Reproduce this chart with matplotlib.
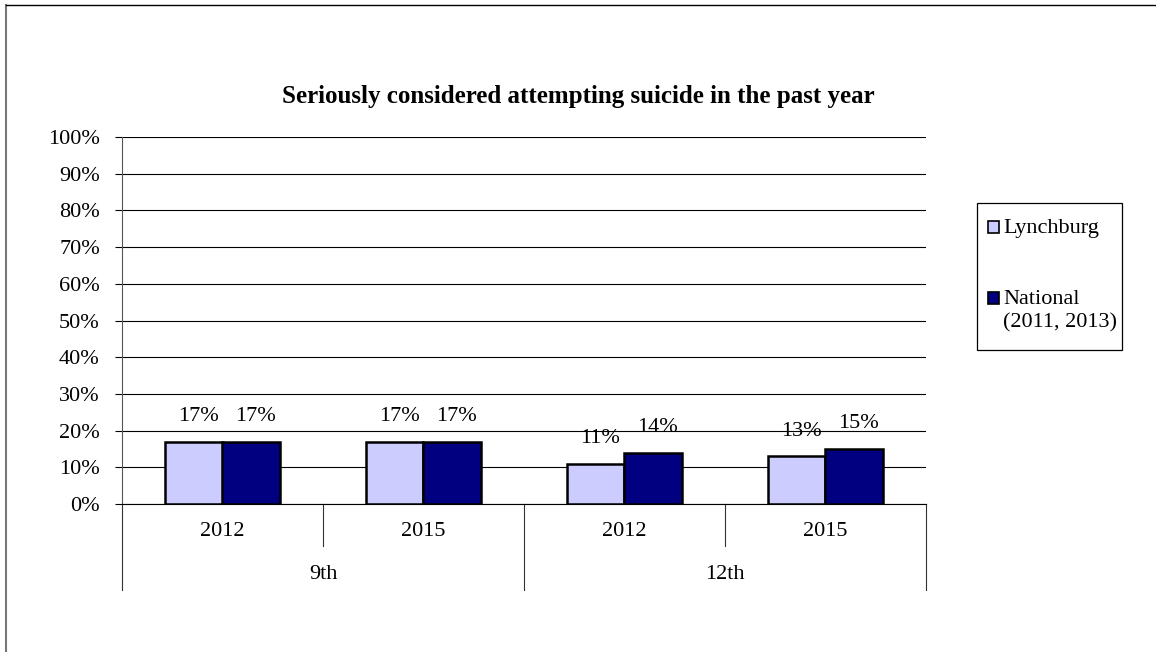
import matplotlib

matplotlib.use("Agg")
import matplotlib.pyplot as plt
from matplotlib.lines import Line2D
from matplotlib.patches import Rectangle

plt.rcParams["font.family"] = ["Liberation Serif", "DejaVu Serif"]

years = ["2012", "2015", "2012", "2015"]
grades = ["9th", "12th"]
lynchburg = [17, 17, 11, 13]
national = [17, 17, 14, 15]
series_names = ["Lynchburg", "National\n(2011, 2013)"]
colors = ["#CCCCFF", "#000080"]

FS = 16
fig = plt.figure(figsize=(11.56, 6.52), dpi=100)
W, H = 1156, 652
ax = fig.add_axes([122 / W, 1 - 504 / H, (926 - 122) / W, (504 - 137) / H])

x = list(range(len(years)))
bw = 0.284
for vals, off, col in [(lynchburg, -bw / 2, colors[0]), (national, bw / 2, colors[1])]:
    pos = [i + off for i in x]
    ax.bar(pos, vals, width=bw, color=col, edgecolor="black", linewidth=1.8, zorder=3)
    for p, v in zip(pos, vals):
        ax.annotate(f"{v}%", (p, v), xytext=(3, 18), textcoords="offset points",
                    ha="center", va="center", fontsize=FS)

ax.set_xlim(-0.5, len(years) - 0.5)
ax.set_ylim(0, 100)
ax.set_yticks(range(0, 101, 10))
ax.set_yticklabels([f"{t}%" for t in range(0, 101, 10)], fontsize=FS)
ax.tick_params(axis="y", length=5, width=0.8, pad=11)
ax.grid(axis="y", color="black", linewidth=0.8, zorder=0)
ax.set_axisbelow(True)
for s in ["top", "right"]:
    ax.spines[s].set_visible(False)
ax.spines["left"].set_color("#555555")
ax.spines["bottom"].set_color("black")
ax.set_xticks([])

# multi-level category axis
tr = ax.get_xaxis_transform()
for b in [-0.5, 0.5, 1.5, 2.5, 3.5]:
    depth = -0.234 if b in (-0.5, 1.5, 3.5) else -0.114
    ax.add_line(Line2D([b, b], [0, depth], transform=tr, color="#333333",
                       linewidth=0.8, clip_on=False))
for i, yr in enumerate(years):
    ax.text(i, -0.074, yr, transform=tr, ha="center", va="center", fontsize=FS)
for g, gr in enumerate(grades):
    ax.text(2 * g + 0.5, -0.193, gr, transform=tr, ha="center", va="center", fontsize=FS)

fig.text(0.5, 1 - 97 / H, "Seriously considered attempting suicide in the past year",
         ha="center", va="center", fontsize=18, fontweight="bold")

# legend box drawn in figure pixel coordinates
def fx(px):
    return px / W


def fy(py):
    return 1 - py / H


fig.add_artist(Rectangle((fx(977), fy(350)), fx(1122) - fx(977), fy(203) - fy(350),
                         transform=fig.transFigure, facecolor="white",
                         edgecolor="black", linewidth=0.9))
legend_rows = [227, 298]
for name, col, ry in zip(series_names, colors, legend_rows):
    fig.add_artist(Rectangle((fx(988), fy(ry + 6)), fx(999) - fx(988), fy(ry - 6) - fy(ry + 6),
                             transform=fig.transFigure, facecolor=col,
                             edgecolor="black", linewidth=1.2))
    fig.text(fx(1003), fy(ry - 8), name, ha="left", va="top", fontsize=FS,
             linespacing=1.3)

# outer chart border (left and top edges visible)
fig.add_artist(Line2D([6 / W, 6 / W], [0, 1 - 5 / H], transform=fig.transFigure,
                      color="#777777", linewidth=1.5))
fig.add_artist(Line2D([6 / W, 1], [1 - 5 / H, 1 - 5 / H], transform=fig.transFigure,
                      color="black", linewidth=1.0))

fig.savefig("out.png", dpi=100)
